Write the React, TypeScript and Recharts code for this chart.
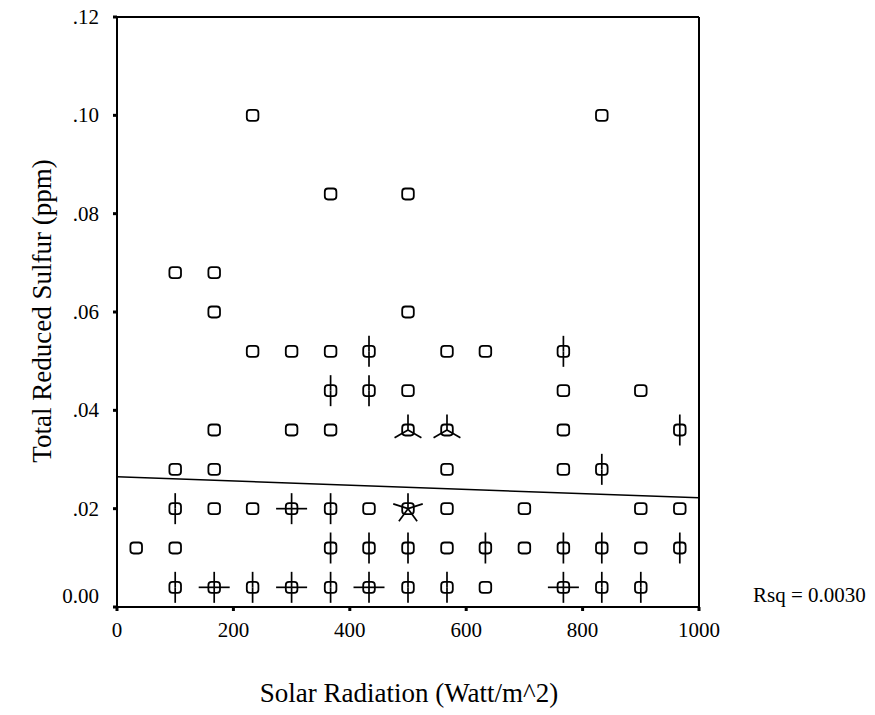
import React from 'react';
import {
  ScatterChart,
  Scatter,
  XAxis,
  YAxis,
  ReferenceLine,
  Customized
} from 'recharts';

// sunflower cells per sulfur level: [solar radiation, number of cases]
const row004 = [[100, 2], [167, 4], [233, 2], [300, 4], [367, 2], [433, 4], [500, 2], [567, 2], [633, 1], [767, 4], [833, 2], [900, 2]];
const row012 = [[33, 1], [100, 1], [367, 2], [433, 2], [500, 2], [567, 1], [633, 2], [700, 1], [767, 2], [833, 2], [900, 1], [967, 2]];
const row020 = [[100, 2], [167, 1], [233, 1], [300, 4], [367, 2], [433, 1], [500, 5], [567, 1], [700, 1], [900, 1], [967, 1]];
const row028 = [[100, 1], [167, 1], [567, 1], [767, 1], [833, 2]];
const row036 = [[167, 1], [300, 1], [367, 1], [500, 3], [567, 3], [767, 1], [967, 2]];
const row044 = [[367, 2], [433, 2], [500, 1], [767, 1], [900, 1]];
const row052 = [[233, 1], [300, 1], [367, 1], [433, 2], [567, 1], [633, 1], [767, 2]];
const row060 = [[167, 1], [500, 1]];
const row068 = [[100, 1], [167, 1]];
const row084 = [[367, 1], [500, 1]];
const row100 = [[233, 1], [833, 1]];

const sulfurLevels = [0.004, 0.012, 0.02, 0.028, 0.036, 0.044, 0.052, 0.06, 0.068, 0.084, 0.1];
const sulfurRows = [row004, row012, row020, row028, row036, row044, row052, row060, row068, row084, row100];

const xTicks = [0, 200, 400, 600, 800, 1000];
const yTicks = [0, 0.02, 0.04, 0.06, 0.08, 0.1, 0.12];

// linear fit
const fitLine = [{ x: 0, y: 0.0265 }, { x: 1000, y: 0.0222 }];
const rsqText = 'Rsq = 0.0030';

const points = sulfurRows.flatMap((row, i) =>
  row.map(([x, n]) => ({ solar: x, sulfur: sulfurLevels[i], count: n }))
);

const SERIF = 'Liberation Serif';

const Sunflower = (props: any) => {
  const { cx, cy, payload } = props;
  const n = payload.count;
  const petal = 15.5;
  const lines = [];
  if (n > 1) {
    for (let k = 0; k < n; k++) {
      const a = (Math.PI / 2) + (k * 2 * Math.PI) / n;
      lines.push(
        <line
          key={k}
          x1={cx}
          y1={cy}
          x2={cx + petal * Math.cos(a)}
          y2={cy - petal * Math.sin(a)}
          stroke="#000"
          strokeWidth={1.7}
        />
      );
    }
  }
  return (
    <g>
      <rect x={cx - 5.8} y={cy - 5.5} width={11.6} height={11} rx={3.2} fill="none" stroke="#000" strokeWidth={1.8} />
      {lines}
    </g>
  );
};

const fmtY = (v: number) => (v === 0 ? '0.00' : '.' + Math.round(v * 100).toString().padStart(2, '0'));

const YTick = ({ x, y, payload }: any) => (
  <text x={x} y={y} dy={payload.value === 0 ? -4 : 7} textAnchor="end" fontFamily={SERIF} fontSize={21} fill="#000">
    {fmtY(payload.value)}
  </text>
);

const XTick = ({ x, y, payload }: any) => (
  <text x={x} y={y} dy={24} textAnchor="middle" fontFamily={SERIF} fontSize={21} fill="#000">
    {payload.value}
  </text>
);

const Titles = () => (
  <g fill="#000">
    <text x={409} y={702} fontFamily={SERIF} fontSize={27} textAnchor="middle">Solar Radiation (Watt/m^2)</text>
    <text x={51} y={311} fontFamily={SERIF} fontSize={27} textAnchor="middle" transform="rotate(-90 51 311)">Total Reduced Sulfur (ppm)</text>
    <text x={753} y={602} fontFamily={SERIF} fontSize={21}>{rsqText}</text>
  </g>
);

export default function App() {
  return (
    <div style={{ position: 'absolute', left: 0, top: 0, background: '#fff' }}>
      <ScatterChart width={875} height={715} margin={{ top: 17, right: 176, left: 57, bottom: 68 }}>
        <XAxis
          type="number"
          dataKey="solar"
          domain={[0, 1000]}
          ticks={xTicks}
          tick={<XTick />}
          tickSize={4}
          tickLine={{ stroke: '#000', strokeWidth: 3 }}
          axisLine={{ stroke: '#000', strokeWidth: 2 }}
          height={40}
        />
        <YAxis
          type="number"
          dataKey="sulfur"
          domain={[0, 0.12]}
          ticks={yTicks}
          tick={<YTick />}
          tickSize={4}
          tickMargin={14}
          tickLine={{ stroke: '#000', strokeWidth: 3 }}
          axisLine={{ stroke: '#000', strokeWidth: 2 }}
          width={60}
        />
        <ReferenceLine y={0.12} stroke="#000" strokeWidth={2} />
        <ReferenceLine x={1000} stroke="#000" strokeWidth={2} />
        <ReferenceLine segment={fitLine} stroke="#000" strokeWidth={1.5} />
        <Scatter data={points} shape={<Sunflower />} isAnimationActive={false} />
        <Customized component={<Titles />} />
      </ScatterChart>
    </div>
  );
}
